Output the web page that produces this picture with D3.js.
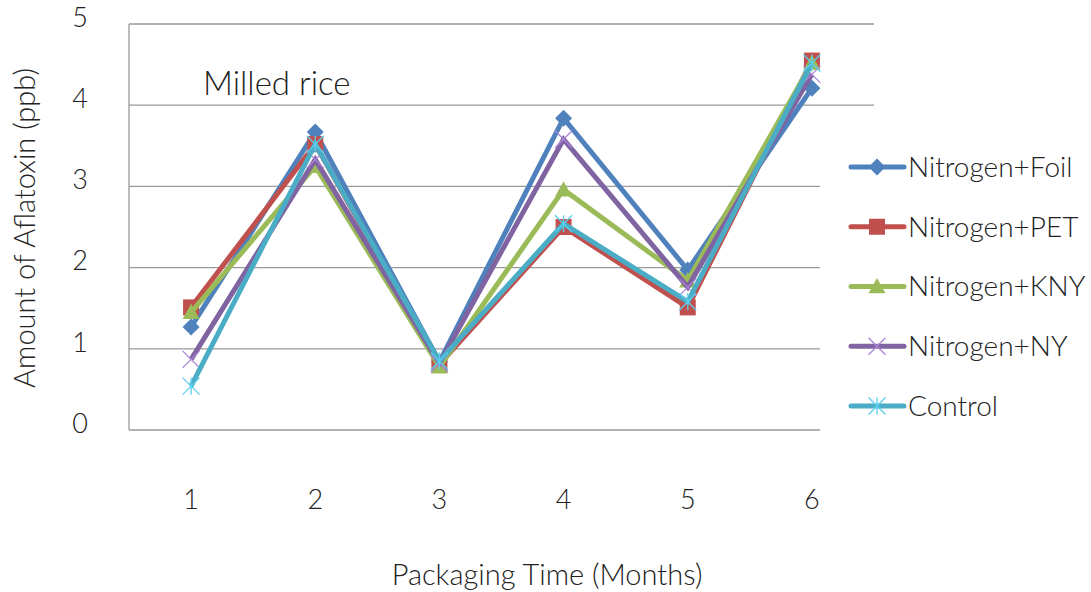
<!DOCTYPE html>
<html>
<head>
<meta charset="utf-8">
<script src="https://cdn.jsdelivr.net/npm/d3@7"></script>
<style>
  html, body { margin: 0; padding: 0; background: #fff; }
  svg { display: block; }
  text { font-family: Lato, "Open Sans", sans-serif; font-weight: 300; fill: #222; }
</style>
</head>
<body>
<svg id="chart" width="1091" height="592"></svg>
<script>
// Months of packaging
const months = [1, 2, 3, 4, 5, 6];
const yTicks = [0, 1, 2, 3, 4, 5];

// Aflatoxin amount (ppb) per treatment
const foil    = [1.27, 3.67, 0.84, 3.84, 1.97, 4.21];
const pet     = [1.51, 3.52, 0.81, 2.50, 1.51, 4.55];
const kny     = [1.45, 3.25, 0.78, 2.96, 1.84, 4.52];
const ny      = [0.87, 3.33, 0.82, 3.58, 1.76, 4.38];
const control = [0.54, 3.52, 0.85, 2.54, 1.58, 4.52];

const seriesNames  = ["Nitrogen+Foil", "Nitrogen+PET", "Nitrogen+KNY", "Nitrogen+NY", "Control"];
const seriesValues = [foil, pet, kny, ny, control];
const seriesColors = ["#4F81BD", "#C0504D", "#9BBB59", "#8064A2", "#4BACC6"];
const seriesMarkers = ["diamond", "square", "triangle", "x", "star"];

const svg = d3.select("#chart");
const plot = { left: 129, right: 874, top: 24, bottom: 430 };

const x = d3.scaleBand().domain(months).range([plot.left, plot.right]);
const y = d3.scaleLinear().domain([0, 5]).range([plot.bottom, plot.top]);
const cx = m => x(m) + x.bandwidth() / 2;

// Horizontal gridlines
svg.append("g").selectAll("line").data(yTicks.filter(t => t > 0)).join("line")
  .attr("x1", plot.left).attr("x2", plot.right)
  .attr("y1", d => y(d)).attr("y2", d => y(d))
  .attr("stroke", "#9a9a9a").attr("stroke-width", 1.3);

// Axis lines
svg.append("line").attr("x1", plot.left).attr("x2", plot.right)
  .attr("y1", y(0)).attr("y2", y(0)).attr("stroke", "#9a9a9a").attr("stroke-width", 1.3);
svg.append("line").attr("x1", plot.left).attr("x2", plot.left)
  .attr("y1", y(0)).attr("y2", y(5)).attr("stroke", "#9a9a9a").attr("stroke-width", 1.3);

// Y tick labels
svg.append("g").selectAll("text").data(yTicks).join("text")
  .attr("x", 80).attr("y", d => y(d)).attr("dy", "0.1em")
  .attr("text-anchor", "middle").attr("font-size", 27).attr("fill", "#333")
  .text(d => d);

// X tick labels
svg.append("g").selectAll("text").data(months).join("text")
  .attr("x", d => cx(d)).attr("y", 509)
  .attr("text-anchor", "middle").attr("font-size", 27).attr("fill", "#333")
  .text(d => d);

// Axis titles
svg.append("text").attr("x", 547).attr("y", 585).attr("text-anchor", "middle")
  .attr("font-size", 29).attr("fill", "#333").text("Packaging Time (Months)");
svg.append("text").attr("transform", "translate(35,228) rotate(-90)")
  .attr("text-anchor", "middle").attr("font-size", 29).attr("fill", "#333")
  .text("Amount of Aflatoxin (ppb)");

// Chart label
svg.append("text").attr("x", 203).attr("y", 95).attr("font-size", 33)
  .attr("font-weight", 400).attr("fill", "#111").text("Milled rice");

function drawMarker(g, type, color, size) {
  const s = size / 2;
  if (type === "diamond") {
    g.append("path").attr("d", `M0,${-s}L${s},0L0,${s}L${-s},0Z`).attr("fill", color);
  } else if (type === "square") {
    g.append("rect").attr("x", -s + 0.5).attr("y", -s + 0.5).attr("width", size - 1).attr("height", size - 1).attr("fill", color);
  } else if (type === "triangle") {
    g.append("path").attr("d", `M0,${-s}L${s},${s * 0.8}L${-s},${s * 0.8}Z`).attr("fill", color);
  } else if (type === "x") {
    g.append("path").attr("d", `M${-s},${-s}L${s},${s}M${-s},${s}L${s},${-s}`)
      .attr("stroke", d3.color(color).brighter(0.8)).attr("stroke-width", 1.3);
  } else if (type === "star") {
    g.append("path").attr("d", `M${-s},${-s}L${s},${s}M${-s},${s}L${s},${-s}M0,${-s}L0,${s}`)
      .attr("stroke", d3.color(color).brighter(0.5)).attr("stroke-width", 1.3);
  }
}

const line = d3.line().x((d, i) => cx(months[i])).y(d => y(d));

// Series lines and markers
seriesValues.forEach((vals, k) => {
  const g = svg.append("g");
  g.append("path").datum(vals).attr("d", line)
    .attr("fill", "none").attr("stroke", seriesColors[k])
    .attr("stroke-width", 5).attr("stroke-linejoin", "miter");
  vals.forEach((v, i) => {
    const mg = g.append("g").attr("transform", `translate(${cx(months[i])},${y(v)})`);
    drawMarker(mg, seriesMarkers[k], seriesColors[k], 17);
  });
});

// Legend panel
const legend = svg.append("g");
legend.append("rect").attr("x", 820).attr("y", 130).attr("width", 271).attr("height", 320).attr("fill", "#fff");
const legendY = d3.scalePoint().domain(seriesNames).range([167, 406]);
seriesNames.forEach((name, k) => {
  const ly = legendY(name);
  legend.append("line").attr("x1", 851).attr("x2", 904).attr("y1", ly).attr("y2", ly)
    .attr("stroke", seriesColors[k]).attr("stroke-width", 5).attr("stroke-linecap", "round");
  const mg = legend.append("g").attr("transform", `translate(877,${ly})`);
  drawMarker(mg, seriesMarkers[k], seriesColors[k], 17);
  legend.append("text").attr("x", 908).attr("y", ly).attr("dy", "0.35em")
    .attr("font-size", 28).attr("font-weight", 400).attr("fill", "#111").text(name);
});
</script>
</body>
</html>
